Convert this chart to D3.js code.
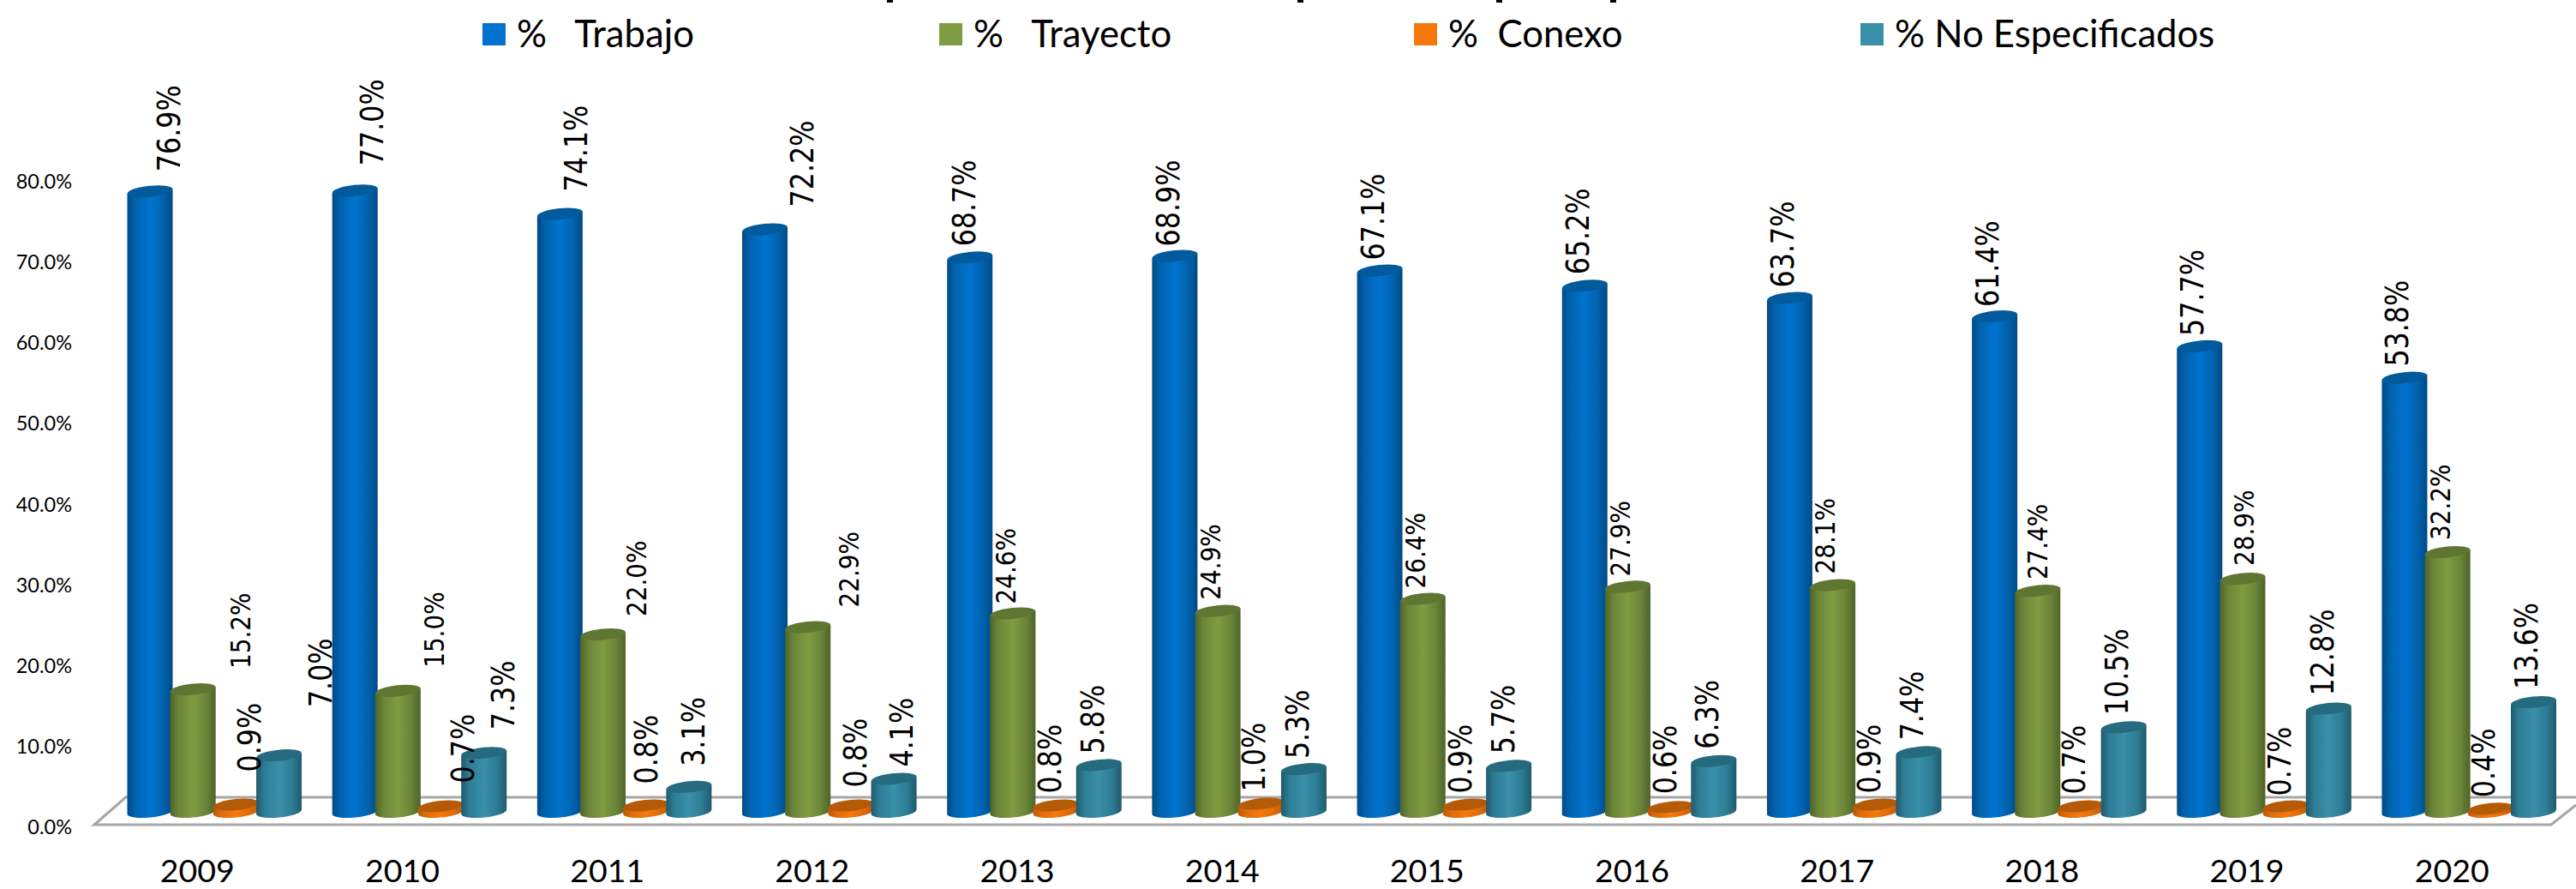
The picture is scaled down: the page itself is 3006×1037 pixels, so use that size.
<!DOCTYPE html>
<html>
<head>
<meta charset="utf-8">
<script src="https://cdn.jsdelivr.net/npm/d3@7"></script>
<style>
  html, body { margin: 0; padding: 0; background: #fff; overflow: hidden; }
  svg { display: block; }
  text { fill: #000; }
</style>
</head>
<body>
<div id="chart"></div>
<script>
// Values
var years = ['2009', '2010', '2011', '2012', '2013', '2014', '2015', '2016', '2017', '2018', '2019', '2020']
var seriesNames = ['%   Trabajo', '%   Trayecto', '%  Conexo', '% No Especificados']
var trabajo = [76.9, 77.0, 74.1, 72.2, 68.7, 68.9, 67.1, 65.2, 63.7, 61.4, 57.7, 53.8]
var trayecto = [15.2, 15.0, 22.0, 22.9, 24.6, 24.9, 26.4, 27.9, 28.1, 27.4, 28.9, 32.2]
var conexo = [0.9, 0.7, 0.8, 0.8, 0.8, 1.0, 0.9, 0.6, 0.9, 0.7, 0.7, 0.4]
var noEspecificados = [7.0, 7.3, 3.1, 4.1, 5.8, 5.3, 5.7, 6.3, 7.4, 10.5, 12.8, 13.6]
var yTicks = [0, 10, 20, 30, 40, 50, 60, 70, 80]

var allSeries = [trabajo, trayecto, conexo, noEspecificados]

var width = 3006,
    height = 1037

var svg = d3.select('#chart')
    .append('svg')
    .attr('width', width)
    .attr('height', height)

// Scales
var x = d3.scaleBand()
    .domain(years)
    .range([148.5, 2983])
    .paddingInner(0.149)
    .paddingOuter(0)

var xInner = d3.scalePoint()
    .domain(d3.range(4))
    .range([26.5, x.bandwidth() - 26.5])

var y = d3.scaleLinear()
    .domain([0, 80])
    .range([947, 194])

// Gradients for the cylinders
var palette = [
    { edge: '#014a86', mid: '#0163ae', light: '#0173cf', cap: '#015a9c' },
    { edge: '#4f6429', mid: '#6b8538', light: '#7f9c42', cap: '#5e7632' },
    { edge: '#b85a08', mid: '#e06c0a', light: '#f5780c', cap: '#b55b08' },
    { edge: '#205a6c', mid: '#2d7d95', light: '#3a8fa9', cap: '#266a7f' }
]

var defs = svg.append('defs')
palette.forEach(function (p, i) {
    var grad = defs.append('linearGradient')
        .attr('id', 'cyl' + i)
        .attr('x1', 0).attr('x2', 1)
        .attr('y1', 0).attr('y2', 0)
    var stops = [[0, p.edge], [0.18, p.mid], [0.5, p.light], [0.78, p.mid], [1, p.edge]]
    stops.forEach(function (s) {
        grad.append('stop').attr('offset', s[0]).attr('stop-color', s[1])
    })
})

// What is left of the title, cut off by the top edge of the picture: only the descenders
var titleDescenders = [1035, 1514, 1746, 1879]
svg.selectAll('.descender')
    .data(titleDescenders)
    .enter()
    .append('rect')
    .attr('class', 'descender')
    .attr('x', function (d) { return d })
    .attr('y', 0)
    .attr('width', 7)
    .attr('height', 3)
    .attr('fill', '#000')

// Floor of the 3D chart
var floorFront = y(0) + 15,
    floorBack = y(0) - 17
var floor = svg.append('g')
    .attr('fill', 'none')
    .attr('stroke', '#a6a6a6')
    .attr('stroke-width', 3)
floor.append('path')
    .attr('d', 'M148,' + floorBack + 'L3006,' + floorBack)
floor.append('path')
    .attr('d', 'M148,' + (floorBack - 1) + 'L110,' + floorFront + 'L2977,' + floorFront + 'L3006,' + (floorFront - 23))

// Axes
var yAxis = svg.append('g')
    .attr('transform', 'translate(84,18)')
    .call(d3.axisLeft(y).tickValues(yTicks).tickSize(0).tickPadding(0)
        .tickFormat(function (d) { return d3.format('.1f')(d) + '%' }))
yAxis.select('.domain').remove()
yAxis.selectAll('text')
    .style('font-family', 'Lato')
    .style('font-size', '23.5px')

var xAxis = svg.append('g')
    .attr('transform', 'translate(-20,1015)')
    .call(d3.axisBottom(x).tickSize(0).tickPadding(0))
xAxis.select('.domain').remove()
xAxis.selectAll('text')
    .attr('dy', '0.36em')
    .attr('y', 0)
    .style('font-family', 'Lato')
    .style('font-size', '37.5px')

// Cylinder outline: tilted ellipses at top and bottom
var rx = 26.5, ry = 6.5, tilt = -6
function cylinderPath(cx, top, bottom) {
    var lift = rx * Math.sin(tilt * Math.PI / 180)
    return 'M' + (cx - rx) + ',' + (top - lift) +
        'L' + (cx - rx) + ',' + (bottom - lift) +
        'A' + rx + ',' + ry + ' ' + tilt + ' 0 0 ' + (cx + rx) + ',' + (bottom + lift) +
        'L' + (cx + rx) + ',' + (top + lift) + 'Z'
}

var groups = svg.selectAll('.year')
    .data(years)
    .enter()
    .append('g')
    .attr('class', 'year')
    .attr('transform', function (d) { return 'translate(' + x(d) + ',0)' })

allSeries.forEach(function (values, s) {
    groups.append('path')
        .attr('d', function (d, i) { return cylinderPath(xInner(s), y(values[i]), y(0)) })
        .attr('fill', 'url(#cyl' + s + ')')
    groups.append('ellipse')
        .attr('rx', rx)
        .attr('ry', ry)
        .attr('fill', palette[s].cap)
        .attr('transform', function (d, i) {
            return 'translate(' + xInner(s) + ',' + y(values[i]) + ') rotate(' + tilt + ')'
        })
})

// Data labels, rotated. The original labels were moved around by hand, so the
// nudges from the bar top are per label: sideways and upwards.
var labelDx = [
    [22, 20, 18, 43, -7, -8, -8, -8, -9, -9, -9, -9],
    [55, 42, 39, 48, -8, -9, -9, -9, -9, 0, 2, -9],
    [15, 25, 0, 5, -7, -8, -7, -7, -8, -8, -7, -8],
    [48, 22, 5, 9, -7, -8, -7, -8, -8, -8, -7, -9]
]
var labelGap = [
    [23, 29, 26, 26, 13, 11, 12, 13, 12, 11, 12, 13],
    [24, 27, 21, 23, 11, 13, 12, 12, 13, 13, 15, 14],
    [38, 27, 25, 21, 14, 14, 13, 15, 13, 14, 12, 13],
    [56, 27, 24, 14, 13, 12, 14, 14, 14, 14, 15, 15]
]
// the green series has smaller labels
var labelSize = [36.5, 32, 36.5, 36.5]

allSeries.forEach(function (values, s) {
    groups.append('text')
        .text(function (d, i) { return values[i].toFixed(1) + '%' })
        .attr('dy', '0.36em')
        .style('font-family', 'DejaVu Sans')
        .style('font-size', labelSize[s] + 'px')
        .attr('transform', function (d, i) {
            return 'translate(' + (xInner(s) + labelDx[s][i]) + ',' + (y(values[i]) - labelGap[s][i]) + ') rotate(-90) scale(0.87,1)'
        })
})

// Legend
var legendX = [563, 1096, 1650, 2171]
var legend = svg.selectAll('.legend')
    .data(seriesNames)
    .enter()
    .append('g')
    .attr('class', 'legend')
    .attr('transform', function (d, i) { return 'translate(' + legendX[i] + ',27)' })
legend.append('rect')
    .attr('width', 27)
    .attr('height', 26)
    .attr('fill', function (d, i) { return palette[i].light })
legend.append('text')
    .attr('x', 40)
    .attr('y', 28)
    .style('font-family', 'Lato')
    .style('font-size', '43.7px')
    .style('white-space', 'pre')
    .text(function (d) { return d })
</script>
</body>
</html>
